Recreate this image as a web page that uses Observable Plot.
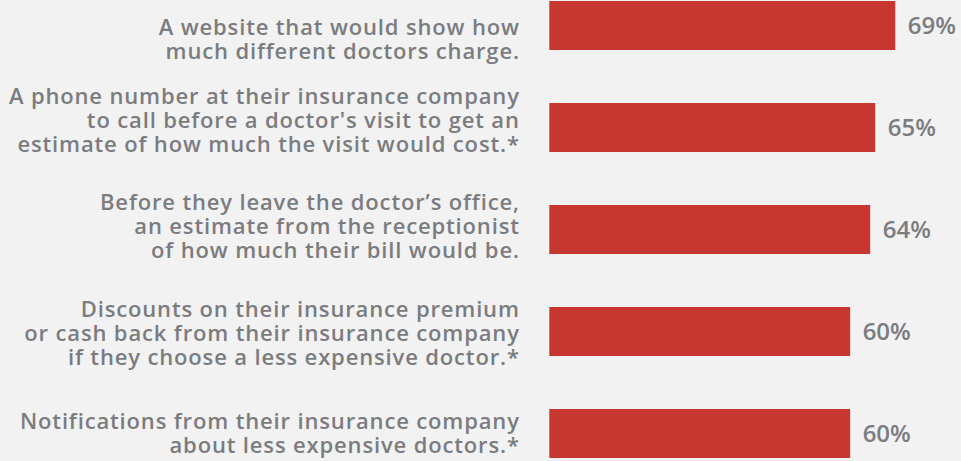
<!DOCTYPE html>
<html>
<head>
<meta charset="utf-8">
<script src="https://cdn.jsdelivr.net/npm/d3@7"></script>
<script src="https://cdn.jsdelivr.net/npm/@observablehq/plot@0.6"></script>
<style>
  html, body { margin: 0; padding: 0; background: #f2f2f2; }
  #chart { width: 961px; height: 461px; overflow: hidden; }
</style>
</head>
<body>
<div id="chart"></div>
<script>
const categories = [
  "A website that would show how\nmuch different doctors charge.",
  "A phone number at their insurance company\nto call before a doctor's visit to get an\nestimate of how much the visit would cost.*",
  "Before they leave the doctor’s office,\nan estimate from the receptionist\nof how much their bill would be.",
  "Discounts on their insurance premium\nor cash back from their insurance company\nif they choose a less expensive doctor.*",
  "Notifications from their insurance company\nabout less expensive doctors.*"
];
const values = [69, 65, 64, 60, 60];
const valueLabels = ["69%", "65%", "64%", "60%", "60%"];

const data = categories.map((c, i) => ({category: c, value: values[i], label: valueLabels[i]}));

const gray = "#7b7c80";
const labelNudge = [13, -8, -4, 1, -1];

const labelMarks = data.map((d, i) =>
  Plot.text([d], {
    x: () => 0,
    y: "category",
    text: "category",
    textAnchor: "end",
    lineAnchor: "middle",
    dx: -30,
    dy: labelNudge[i],
    fill: gray,
    fontFamily: "'Open Sans', sans-serif",
    fontWeight: 600,
    fontSize: 22,
    lineHeight: 24 / 22
  })
);

const plot = Plot.plot({
  width: 961,
  height: 461,
  style: {background: "#f2f2f2", overflow: "visible"},
  x: {domain: [0, 100], range: [549.3, 1050.7], axis: null},
  y: {domain: categories, range: [-27.4, 486.1], paddingInner: 0.52, paddingOuter: 0.26, axis: null},
  marks: [
    Plot.barX(data, {x: "value", y: "category", fill: "#c8372f"}),
    Plot.text(data, {
      x: "value",
      y: "category",
      text: "label",
      textAnchor: "start",
      dx: 12,
      fill: gray,
      fontFamily: "'Open Sans', sans-serif",
      fontWeight: 600,
      fontSize: 24
    }),
    ...labelMarks
  ]
});

d3.select(plot).selectAll("text")
  .filter(function () { return !/%$/.test(this.textContent); })
  .attr("letter-spacing", "0.85px");
document.getElementById("chart").appendChild(plot);
</script>
</body>
</html>
